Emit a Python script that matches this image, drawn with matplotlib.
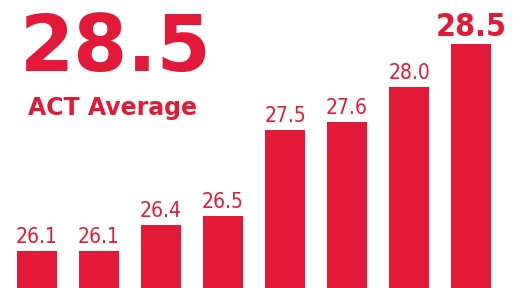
import matplotlib
matplotlib.use("Agg")
import matplotlib.pyplot as plt
import numpy as np

# data
values = [26.1, 26.1, 26.4, 26.5, 27.5, 27.6, 28.0, 28.5]
labels = ["26.1", "26.1", "26.4", "26.5", "27.5", "27.6", "28.0", "28.5"]
headline = "28.5"
caption = "ACT Average"

red = "#E31937"

fig = plt.figure(figsize=(5.19, 2.88), dpi=100)
ax = fig.add_axes([0, 0, 1, 1])

x = np.arange(len(values))
ax.bar(x, values, width=0.63, color=red, bottom=0)

# value labels above bars, last one bigger and bold
for i in range(len(values)):
    if i == len(values) - 1:
        ax.annotate(labels[i], (x[i], values[i]), xytext=(0, 5.8),
                    textcoords="offset points", ha="center", va="baseline",
                    fontsize=23, fontweight="bold", fontstretch="condensed",
                    color=red, family="DejaVu Sans")
    else:
        ax.annotate(labels[i], (x[i], values[i]), xytext=(0, 5.8),
                    textcoords="offset points", ha="center", va="baseline",
                    fontsize=15, fontstretch="condensed", color=red,
                    family="DejaVu Sans")

ax.set_xlim(-0.597, 7.774)
ax.set_ylim(25.67, 29.01)
ax.axis("off")

fig.text(20 / 519, 1 - 71 / 288, headline, fontsize=56, fontweight="bold",
         color=red, ha="left", va="baseline", family="DejaVu Sans")
fig.text(28 / 519, 1 - 115 / 288, caption, fontsize=17, fontweight="bold",
         color=red, ha="left", va="baseline", family="DejaVu Sans")

fig.savefig("out.png", dpi=100)
